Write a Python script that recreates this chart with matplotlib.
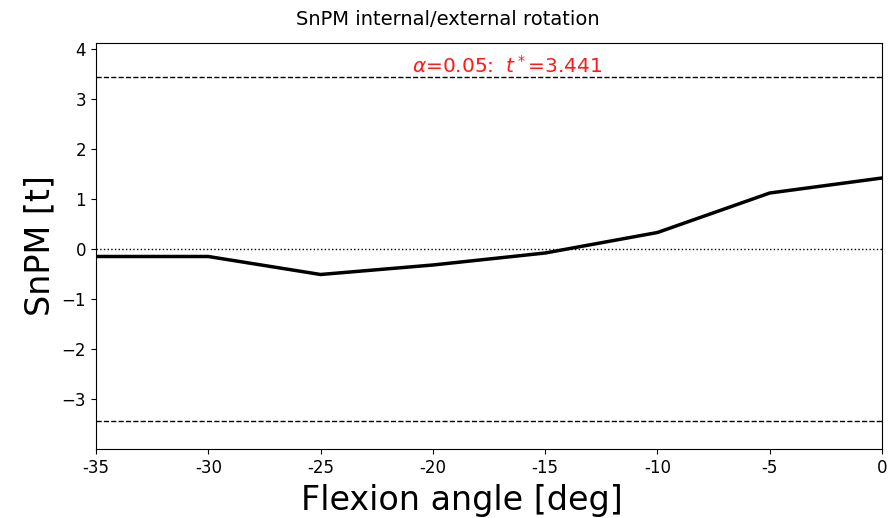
import matplotlib

matplotlib.use("Agg")
import matplotlib.pyplot as plt

# flexion angles and SnPM t-values
angles = [-35, -30, -25, -20, -15, -10, -5, 0]
t_values = [-0.15, -0.15, -0.51, -0.32, -0.08, 0.33, 1.12, 1.42]
x_tick_labels = ["-35", "-30", "-25", "-20", "-15", "-10", "-5", "0"]
y_ticks = [-3, -2, -1, 0, 1, 2, 3, 4]
t_star = 3.441
alpha = 0.05

fig = plt.figure(figsize=(8.91, 5.18), dpi=100)
ax = fig.add_axes([0.1077, 0.1332, 0.8823, 0.7838])

ax.plot(angles, t_values, color="k", lw=2.5)
ax.axhline(0, color="k", ls=":", lw=1)
ax.axhline(t_star, color="k", ls="--", lw=1)
ax.axhline(-t_star, color="k", ls="--", lw=1)

ax.text(-16.7, t_star, r"$\alpha$=%.2f:  $t^*$=%.3f" % (alpha, t_star),
        color="r", fontsize=14.5, ha="center", va="bottom", alpha=0.9)

ax.set_xlim(-35, 0)
ax.set_ylim(-4.0, 4.12)
ax.set_xticks(angles)
ax.set_xticklabels(x_tick_labels, fontsize=12)
ax.set_yticks(y_ticks)
ax.tick_params(axis="y", labelsize=12)

# title and xlabel sit a bit left of the axes centre in the reference
ax.set_title("SnPM internal/external rotation", fontsize=14, x=0.447, pad=13)
ax.set_xlabel("Flexion angle [deg]", fontsize=24)
ax.xaxis.set_label_coords(0.466, -0.085)
ax.set_ylabel("SnPM [t]", fontsize=24)

fig.savefig("out.png", dpi=100)
